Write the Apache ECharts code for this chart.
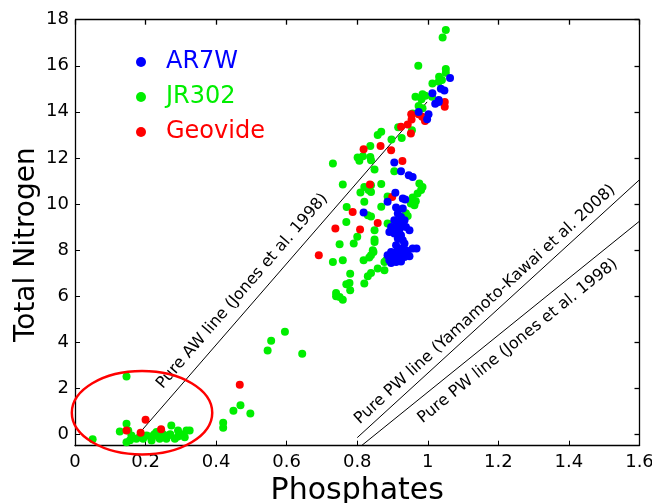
<!DOCTYPE html>
<html>
<head>
<meta charset="utf-8">
<title>Total Nitrogen vs Phosphates</title>
<script src="https://cdn.jsdelivr.net/npm/echarts@6/dist/echarts.min.js"></script>
<style>
html,body{margin:0;padding:0;background:#fff;}
#main{width:652px;height:503px;}
</style>
</head>
<body>
<div id="main"></div>
<script>
//数据: [Phosphates, Total Nitrogen]
var ar7w = [
    [1.063,15.47],[1.037,15.0],[1.047,14.93],[1.013,14.81],[1.031,14.51],[1.021,14.35],[1.031,14.43],
    [0.974,13.99],[1.002,13.89],[0.998,13.68],
    [0.905,11.8],[0.924,11.42],[0.946,11.24],[0.957,11.17],
    [0.908,10.48],[0.886,10.09],[0.929,10.23],[0.936,10.19],[0.818,9.63],
    [0.910,9.84],[0.929,9.8],[0.915,9.58],[0.924,9.43],[0.934,9.29],[0.905,9.29],[0.919,9.15],
    [0.938,9.0],[0.948,8.86],[0.896,9.0],[0.891,8.78],[0.905,8.71],[0.924,8.64],[0.929,8.42],
    [0.915,8.5],[0.934,8.28],[0.957,8.06],[0.968,8.06],[0.910,8.2],[0.924,8.06],[0.938,7.99],
    [0.896,7.91],[0.886,7.77],[0.900,7.7],[0.915,7.77],[0.929,7.77],[0.943,7.84],[0.891,7.55],
    [0.905,7.55],[0.919,7.62],[0.934,7.7],[0.948,7.73],[0.896,7.43],[0.910,7.48],[0.924,7.5],
    [0.900,7.85],[0.915,8.0],[0.920,8.9],[0.913,9.0],[0.925,9.1]
];
var jr302 = [
    [1.051,17.55],[1.042,17.23],[0.973,16.0],[1.051,15.86],[1.051,15.7],[1.032,15.52],[1.040,15.38],
    [1.031,15.3],[1.013,15.23],[0.985,14.76],[0.993,14.70],[0.982,14.54],[0.965,14.65],[1.012,14.65],
    [0.974,14.25],[0.985,14.15],[0.957,13.93],[0.916,13.33],[0.955,13.2],[0.926,12.86],[0.897,12.8],
    [0.868,13.13],[0.858,12.99],[0.837,12.52],[0.816,12.07],[0.801,12.02],[0.837,12.04],[0.806,11.87],
    [0.839,11.9],[0.731,11.76],[0.849,11.5],[0.905,11.42],
    [0.759,10.84],[0.820,10.74],[0.839,10.81],[0.832,10.6],[0.809,10.5],[0.839,10.52],[0.868,10.86],
    [0.976,10.89],[0.985,10.74],[0.981,10.6],[0.971,10.45],[0.886,10.32],[0.820,10.09],[0.957,10.28],
    [0.966,10.12],[0.952,10.02],[0.962,9.94],[0.868,9.88],[0.770,9.87],[0.830,9.51],[0.839,9.45],
    [0.938,9.6],[0.943,9.48],[0.932,9.37],[0.769,9.22],[0.849,8.86],[0.886,9.15],[0.800,8.57],
    [0.790,8.28],[0.849,8.45],[0.849,8.35],[0.750,8.25],[0.839,7.77],[0.834,7.67],[0.846,7.91],
    [0.731,7.48],[0.759,7.55],[0.818,7.55],[0.877,7.48],[0.882,7.55],[0.858,7.19],[0.877,7.12],
    [0.839,7.0],[0.830,6.86],[0.780,6.97],[0.820,6.54],[0.778,6.57],[0.769,6.51],[0.780,6.25],
    [0.740,6.13],[0.740,5.99],[0.750,5.96],[0.759,5.84],[0.844,7.99],[0.924,8.5],[0.900,7.55],
    [0.595,4.45],[0.556,4.06],[0.546,3.63],[0.644,3.49],[0.469,1.26],[0.449,1.02],[0.497,0.9],
    [0.42,0.5],[0.42,0.28],
    [0.146,2.51],[0.05,-0.22],[0.146,0.45],[0.127,0.12],[0.146,-0.35],[0.156,-0.26],[0.160,-0.06],
    [0.184,-0.1],[0.193,-0.2],[0.214,-0.1],[0.217,-0.27],[0.231,0.09],[0.236,-0.1],[0.240,-0.2],
    [0.250,-0.01],[0.259,-0.2],[0.264,-0.06],[0.273,0.38],[0.283,-0.2],[0.292,0.16],[0.292,-0.1],
    [0.311,-0.13],[0.316,0.16],[0.325,0.16],[0.151,0.16],[0.174,-0.2],[0.203,-0.06],[0.225,0.0],
    [0.245,0.1],[0.27,0.0],[0.30,0.0]
];
var geovide = [
    [1.048,14.43],[1.048,14.22],[0.953,13.89],[0.954,13.67],[0.974,13.89],[0.984,13.78],[0.992,13.6],
    [0.943,13.45],[0.924,13.35],[0.952,13.06],[0.866,12.52],[0.818,12.37],[0.896,12.33],[0.928,11.86],
    [0.836,10.84],[0.899,10.3],[0.787,9.65],[0.858,9.17],[0.738,8.93],[0.808,8.89],[0.691,7.77],
    [0.467,2.15],[0.146,0.16],[0.186,0.06],[0.2,0.63],[0.244,0.21]
];
//参考线 (两端点)
var awLineJones = [[0.163,-0.3],[0.998,14.43]];
var pwLineYamamoto = [[0.80,-0.15],[1.6,11.05]];
var pwLineJones = [[0.812,-0.5],[1.6,9.25]];
var lineNames = ['Pure AW line (Jones et al. 1998)','Pure PW line (Yamamoto-Kawai et al. 2008)','Pure PW line (Jones et al. 1998)'];
var lineLabelAt = [[0.474,6.21],[1.162,5.63],[1.255,4.04]];
//低值区椭圆: 中心, 半轴
var ringCenter = [0.19,0.93];
var ringRadius = [0.199,1.81];
//刻度与坐标范围
var xRange = [0,1.6];
var yRange = [-0.5,18];
var xTicks = [0,0.2,0.4,0.6,0.8,1,1.2,1.4,1.6];
var yTicks = [0,2,4,6,8,10,12,14,16,18];

var font = 'DejaVu Sans';
var myChart = echarts.init(document.getElementById('main'));

function refLine(data){
    return {
        type:'line', data:data, symbol:'none', silent:true, z:1,
        lineStyle:{color:'#000', width:1}
    };
}

var option = {
    animation:false,
    grid:{left:75, right:12.5, top:19.7, bottom:57.3, outerBoundsMode:'none'},
    legend:{
        orient:'vertical', left:131, top:45, icon:'circle',
        itemWidth:40, itemHeight:10, itemGap:11,
        textStyle:{fontSize:24, fontFamily:font},
        data:[
            {name:'AR7W', textStyle:{color:'#0000ff'}},
            {name:'JR302', textStyle:{color:'#00ee00'}},
            {name:'Geovide', textStyle:{color:'#ff0000'}}
        ]
    },
    xAxis:{
        type:'value', min:xRange[0], max:xRange[1], interval:0.2,
        axisLine:{show:true, onZero:false, lineStyle:{color:'#000', width:1.3}},
        axisTick:{show:true, inside:true, length:5, lineStyle:{color:'#000'}},
        axisLabel:{color:'#000', fontSize:18, fontFamily:font, margin:8},
        splitLine:{show:false},
        name:'Phosphates', nameLocation:'middle', nameGap:24,
        nameTextStyle:{color:'#000', fontSize:30, fontFamily:font}
    },
    yAxis:{
        type:'value', min:yRange[0], max:yRange[1],
        axisLine:{show:true, onZero:false, lineStyle:{color:'#000', width:1.3}},
        axisTick:{show:true, inside:true, length:5, customValues:yTicks, lineStyle:{color:'#000'}},
        axisLabel:{color:'#000', fontSize:18, fontFamily:font, margin:6, customValues:yTicks},
        splitLine:{show:false},
        name:'Total Nitrogen', nameLocation:'middle', nameGap:34, nameMoveOverlap:false,
        nameTextStyle:{color:'#000', fontSize:28, fontFamily:font, padding:[0,24,0,0]}
    },
    series:[
        refLine(awLineJones),
        refLine(pwLineYamamoto),
        refLine(pwLineJones),
        {name:'JR302', type:'scatter', data:jr302, symbolSize:8, itemStyle:{color:'#00ee00', opacity:1}, z:2},
        {name:'Geovide', type:'scatter', data:geovide, symbolSize:8, itemStyle:{color:'#ff0000', opacity:1}, z:3},
        {name:'AR7W', type:'scatter', data:ar7w, symbolSize:8, itemStyle:{color:'#0000ff', opacity:1}, z:4}
    ]
};
myChart.setOption(option);

function toPx(p){
    return myChart.convertToPixel({xAxisIndex:0, yAxisIndex:0}, p);
}
function toVal(p){
    return myChart.convertFromPixel({xAxisIndex:0, yAxisIndex:0}, p);
}

//上/右边框与向内刻度: 用 lines 系列画在同一坐标系上
var corner = toPx([xRange[1], yRange[1]]);
var tickDx = xRange[1] - toVal([corner[0]-5, corner[1]])[0];
var tickDy = yRange[1] - toVal([corner[0], corner[1]+5])[1];
var frameData = [
    {coords:[[xRange[0], yRange[1]], [xRange[1], yRange[1]]]},
    {coords:[[xRange[1], yRange[1]], [xRange[1], yRange[0]]]}
];
for(var i=0,l=xTicks.length;i<l;i++){
    frameData.push({coords:[[xTicks[i], yRange[1]], [xTicks[i], yRange[1]-tickDy]]});
}
for(var j=0,k=yTicks.length;j<k;j++){
    frameData.push({coords:[[xRange[1], yTicks[j]], [xRange[1]-tickDx, yTicks[j]]]});
}

//文字标注与椭圆
var graphics = [];
var lines = [awLineJones, pwLineYamamoto, pwLineJones];
for(var n=0;n<lines.length;n++){
    var p0 = toPx(lines[n][0]), p1 = toPx(lines[n][1]);
    var c = toPx(lineLabelAt[n]);
    graphics.push({
        type:'text', x:c[0], y:c[1], z:50,
        rotation:Math.atan2(p0[1]-p1[1], p1[0]-p0[0]),
        style:{text:lineNames[n], fill:'#000', fontSize:16, fontFamily:font, align:'center', verticalAlign:'middle'}
    });
}
var rc = toPx(ringCenter);
var rx = toPx([ringCenter[0]+ringRadius[0], ringCenter[1]])[0]-rc[0];
var ry = rc[1]-toPx([ringCenter[0], ringCenter[1]+ringRadius[1]])[1];
graphics.push({
    type:'ellipse', z:60,
    shape:{cx:rc[0], cy:rc[1], rx:rx, ry:ry},
    style:{fill:'none', stroke:'#ff0000', lineWidth:2.5}
});

myChart.setOption({
    series:option.series.concat([{
        name:'frame', type:'lines', coordinateSystem:'cartesian2d', silent:true, clip:false, z:5,
        polyline:false, effect:{show:false},
        lineStyle:{color:'#000', width:1.3, opacity:1, curveness:0},
        data:frameData
    }]),
    graphic:graphics
});
</script>
</body>
</html>
